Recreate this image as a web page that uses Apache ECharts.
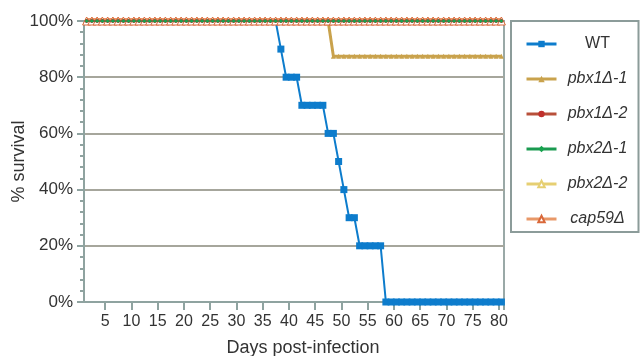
<!DOCTYPE html>
<html>
<head>
<meta charset="utf-8">
<script src="https://cdn.jsdelivr.net/npm/echarts@6/dist/echarts.min.js"></script>
<style>
html,body{margin:0;padding:0;background:#fff;}
#chart{width:640px;height:356px;}
</style>
</head>
<body>
<div id="chart"></div>
<script>
// Days post-infection (categories)
const days = [1,2,3,4,5,6,7,8,9,10,11,12,13,14,15,16,17,18,19,20,
  21,22,23,24,25,26,27,28,29,30,31,32,33,34,35,36,37,38,39,40,
  41,42,43,44,45,46,47,48,49,50,51,52,53,54,55,56,57,58,59,60,
  61,62,63,64,65,66,67,68,69,70,71,72,73,74,75,76,77,78,79,80];
const xTickLabels = [5,10,15,20,25,30,35,40,45,50,55,60,65,70,75,80];
const yTickLabels = [0,20,40,60,80,100];

// % survival per day
const wt = [100,100,100,100,100,100,100,100,100,100,100,100,100,100,100,100,100,100,100,100,
  100,100,100,100,100,100,100,100,100,100,100,100,100,100,100,100,100,90,80,80,
  80,70,70,70,70,70,60,60,50,40,30,30,20,20,20,20,20,0,0,0,
  0,0,0,0,0,0,0,0,0,0,0,0,0,0,0,0,0,0,0,0];
const pbx1_1 = [100,100,100,100,100,100,100,100,100,100,100,100,100,100,100,100,100,100,100,100,
  100,100,100,100,100,100,100,100,100,100,100,100,100,100,100,100,100,100,100,100,
  100,100,100,100,100,100,100,87.5,87.5,87.5,87.5,87.5,87.5,87.5,87.5,87.5,87.5,87.5,87.5,87.5,
  87.5,87.5,87.5,87.5,87.5,87.5,87.5,87.5,87.5,87.5,87.5,87.5,87.5,87.5,87.5,87.5,87.5,87.5,87.5,87.5];
const pbx1_2 = [100,100,100,100,100,100,100,100,100,100,100,100,100,100,100,100,100,100,100,100,
  100,100,100,100,100,100,100,100,100,100,100,100,100,100,100,100,100,100,100,100,
  100,100,100,100,100,100,100,100,100,100,100,100,100,100,100,100,100,100,100,100,
  100,100,100,100,100,100,100,100,100,100,100,100,100,100,100,100,100,100,100,100];
const pbx2_1 = [100,100,100,100,100,100,100,100,100,100,100,100,100,100,100,100,100,100,100,100,
  100,100,100,100,100,100,100,100,100,100,100,100,100,100,100,100,100,100,100,100,
  100,100,100,100,100,100,100,100,100,100,100,100,100,100,100,100,100,100,100,100,
  100,100,100,100,100,100,100,100,100,100,100,100,100,100,100,100,100,100,100,100];
const pbx2_2 = [100,100,100,100,100,100,100,100,100,100,100,100,100,100,100,100,100,100,100,100,
  100,100,100,100,100,100,100,100,100,100,100,100,100,100,100,100,100,100,100,100,
  100,100,100,100,100,100,100,100,100,100,100,100,100,100,100,100,100,100,100,100,
  100,100,100,100,100,100,100,100,100,100,100,100,100,100,100,100,100,100,100,100];
const cap59 = [100,100,100,100,100,100,100,100,100,100,100,100,100,100,100,100,100,100,100,100,
  100,100,100,100,100,100,100,100,100,100,100,100,100,100,100,100,100,100,100,100,
  100,100,100,100,100,100,100,100,100,100,100,100,100,100,100,100,100,100,100,100,
  100,100,100,100,100,100,100,100,100,100,100,100,100,100,100,100,100,100,100,100];

const seriesNames = ['WT','pbx1\u0394-1','pbx1\u0394-2','pbx2\u0394-1','pbx2\u0394-2','cap59\u0394'];

const axisColor = '#8fa3a0';
const font = '"Liberation Sans", Arial, Helvetica, sans-serif';

const chart = echarts.init(document.getElementById('chart'), null, {renderer:'canvas'});
chart.setOption({
  animation: false,
  backgroundColor: '#ffffff',
  textStyle: {fontFamily: font},
  grid: {left: 84, right: 136, top: 21, bottom: 54, show: true, containLabel: false,
    outerBoundsMode: 'none',
    borderColor: '#9aa9a7', borderWidth: 2, backgroundColor: 'transparent'},
  legend: {
    orient: 'vertical', left: 511, top: 21,
    data: seriesNames,
    itemWidth: 30, itemHeight: 8, itemGap: 15,
    padding: [13, 5, 3, 14],
    borderColor: '#8c9c9a', borderWidth: 2, backgroundColor: '#fff',
    lineStyle: {width: 3},
    formatter: function (n) { return n === 'WT' ? '{n|' + n + '}' : '{i|' + n + '}'; },
    textStyle: {
      fontFamily: font, fontSize: 16, color: '#333',
      rich: {
        n: {fontFamily: font, fontSize: 16, color: '#333', width: 72, align: 'center', height: 20, lineHeight: 20},
        i: {fontFamily: font, fontSize: 16, color: '#333', fontStyle: 'italic', width: 72, align: 'center', height: 20, lineHeight: 20}
      }
    }
  },
  xAxis: {
    type: 'category', data: days, boundaryGap: true,
    name: 'Days post-infection', nameLocation: 'middle', nameGap: 37, nameMoveOverlap: false,
    nameTextStyle: {fontFamily: font, fontSize: 18, color: '#333', padding: [0, 0, 0, 18]},
    axisLine: {lineStyle: {color: axisColor, width: 2}},
    axisTick: {show: true, length: 8, alignWithLabel: false,
      interval: function (i, v) { return xTickLabels.indexOf(Number(v)) >= 0; },
      lineStyle: {color: axisColor, width: 2}},
    axisLabel: {fontFamily: font, fontSize: 16, color: '#333', margin: 12, padding: [0, 5, 0, 0],
      interval: function (i, v) { return xTickLabels.indexOf(Number(v)) >= 0; }},
    splitLine: {show: false}
  },
  yAxis: {
    type: 'value', min: yTickLabels[0], max: yTickLabels[yTickLabels.length - 1], interval: 20,
    name: '% survival', nameLocation: 'middle', nameGap: 56, nameRotate: 90, nameMoveOverlap: false,
    nameTextStyle: {fontFamily: font, fontSize: 18, color: '#333'},
    axisLine: {show: true, lineStyle: {color: axisColor, width: 2}},
    axisTick: {show: true, length: 7, lineStyle: {color: axisColor, width: 2}},
    minorTick: {show: true, splitNumber: 5, length: 4, lineStyle: {color: axisColor, width: 2}},
    axisLabel: {fontFamily: font, fontSize: 17, color: '#333', margin: 11, formatter: '{value}%'},
    splitLine: {show: true, lineStyle: {color: '#a6a69c', width: 2}}
  },
  series: [
    {name: seriesNames[0], type: 'line', data: wt.map(function (v) {
        return v === 100 ? {value: v, symbolSize: 0} : v; }),
      symbol: 'rect', symbolSize: 7, showAllSymbol: true, z: 2,
      lineStyle: {color: '#0d7ccc', width: 2}, itemStyle: {color: '#0d7ccc'}},
    {name: seriesNames[1], type: 'line', data: pbx1_1, symbol: 'triangle', symbolSize: 5, showAllSymbol: true, z: 3,
      lineStyle: {color: '#c9a24c', width: 3}, itemStyle: {color: '#c9a24c'}},
    {name: seriesNames[4], type: 'line', data: pbx2_2, symbol: 'triangle', symbolSize: 7, showAllSymbol: true, z: 4,
      lineStyle: {color: '#e6cf72', width: 2}, itemStyle: {color: '#fff', borderColor: '#e6cf72', borderWidth: 1}},
    {name: seriesNames[5], type: 'line', data: cap59, symbol: 'triangle', symbolSize: 8, showAllSymbol: true, z: 5,
      lineStyle: {color: '#e89868', width: 6}, itemStyle: {color: '#fff', borderColor: '#d9683a', borderWidth: 1}},
    {name: seriesNames[2], type: 'line', data: pbx1_2, symbol: 'circle', symbolSize: 4, showAllSymbol: true, z: 6,
      lineStyle: {color: '#b8503a', width: 2}, itemStyle: {color: '#c0302c'}},
    {name: seriesNames[3], type: 'line', data: pbx2_1, symbol: 'diamond', symbolSize: 4, showAllSymbol: true, z: 7,
      lineStyle: {color: '#1a9a50', width: 1}, itemStyle: {color: '#17a34e'}}
  ]
});
</script>
</body>
</html>
